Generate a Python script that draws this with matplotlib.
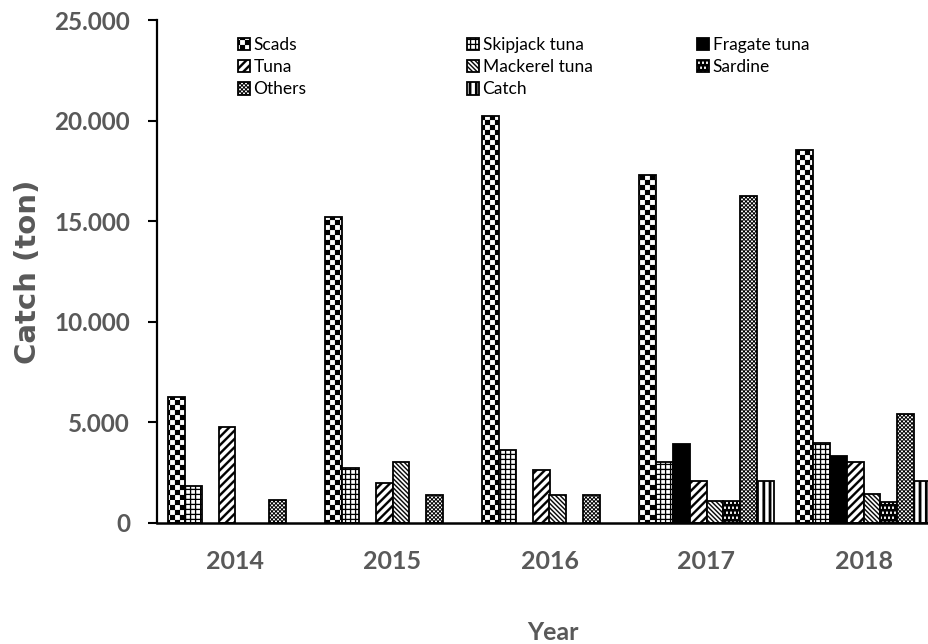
import numpy as np
import matplotlib
matplotlib.use('Agg')
import matplotlib.pyplot as plt
import matplotlib.hatch as mhatch
from matplotlib.path import Path

# ---------------- data ----------------
years = ['2014', '2015', '2016', '2017', '2018']
scads    = [6250, 15200, 20250, 17300, 18550]
skipjack = [1850, 2750, 3650, 3050, 4000]
fragate  = [0, 0, 0, 3950, 3350]
tuna     = [4750, 2000, 2650, 2100, 3050]
mackerel = [0, 3050, 1400, 1100, 1450]
sardine  = [0, 0, 0, 1100, 1050]
others   = [1150, 1400, 1400, 16250, 5400]
catch    = [0, 0, 0, 2100, 2100]
series_names = ['Scads', 'Skipjack tuna', 'Fragate tuna', 'Tuna',
                'Mackerel tuna', 'Sardine', 'Others', 'Catch']
yticks = [0, 5000, 10000, 15000, 20000, 25000]
yticklabels = ['0', '5.000', '10.000', '15.000', '20.000', '25.000']

# ---------------- custom fill patterns (hatch tile = unit square) ----------------
def rect(x0, y0, x1, y1, ccw=True):
    pts = [(x0, y0), (x1, y0), (x1, y1), (x0, y1)]
    return pts if ccw else pts[::-1]

def make_path(polys):
    verts, codes = [], []
    for p in polys:
        verts.extend(p)
        verts.append(p[0])
        codes.extend([Path.MOVETO] + [Path.LINETO] * (len(p) - 1) + [Path.CLOSEPOLY])
    return Path(np.array(verts, float), codes)

def checker(n):
    return make_path([rect(i / n, j / n, (i + 1) / n, (j + 1) / n)
                      for i in range(n) for j in range(n) if (i + j) % 2 == 0])

def grid(n, t):
    polys = [rect(0, k / n, 1, k / n + t) for k in range(n)]
    polys += [rect(k / n, 0, k / n + t, 1) for k in range(n)]
    return make_path(polys)

def diag_up(n, w):
    polys = []
    for k in range(-n - 1, n + 1):
        c = k / n
        polys.append([(0, c), (1, c + 1), (1, c + 1 + w), (0, c + w)])
    return polys

def diag_down(n, w):
    polys = []
    for k in range(0, 2 * n + 2):
        c = k / n
        polys.append([(0, c), (1, c - 1), (1, c - 1 + w), (0, c + w)])
    return polys

def vstripes(n, w):
    return make_path([rect(k / n, 0, k / n + w, 1) for k in range(n)])

def holes():
    polys = [rect(0, 0, 1, 1)]
    for j in range(20):
        for i in range(25):
            x0 = (4 * i + 2 * (j % 2)) / 100
            y0 = (5 * j + 1) / 100
            polys.append(rect(x0, y0, x0 + 0.02, y0 + 0.025, ccw=False))
    return make_path(polys)

CUSTOM = {
    'O': checker(20),
    '+': grid(20, 0.011),
    '/': make_path(diag_up(12, 0.032)),
    '\\': make_path(diag_down(22, 0.018)),
    'x': make_path(diag_up(25, 0.012) + diag_down(25, 0.012)),
    '*': holes(),
    '|': vstripes(16, 0.026),
}
_orig_get_path = mhatch.get_path
def _get_path(hatchpattern, density=6):
    if hatchpattern in CUSTOM:
        return CUSTOM[hatchpattern]
    return _orig_get_path(hatchpattern, density)
mhatch.get_path = _get_path
plt.rcParams['hatch.linewidth'] = 0.1

# ---------------- figure ----------------
W, H = 929, 644
fig = plt.figure(figsize=(W / 100, H / 100), dpi=100)
ax = fig.add_axes([157 / W, (H - 523) / H, 785 / W, 503 / H])

values = [scads, skipjack, fragate, tuna, mackerel, sardine, others, catch]
faces = ['white', 'white', 'black', 'white', 'white', 'white', 'white', 'white']
hatches = ['O', '+', None, '/', '\\', '*', 'x', '|']

x = np.arange(len(years))
bw = 0.108
containers = []
for i, (vals, name, fc, h) in enumerate(zip(values, series_names, faces, hatches)):
    v = np.asarray(vals, float)
    heights = np.where(v > 0, v, np.nan)   # empty categories: no bar drawn
    c = ax.bar(x + (i - 3.5) * bw, heights, width=bw, facecolor=fc, edgecolor='black',
               linewidth=1.3, hatch=h, label=name, zorder=2)
    containers.append(c)

ax.set_xlim(-0.5, len(years) - 0.5)
ax.set_ylim(0, 25000)

gray = '#595959'
ax.set_yticks(yticks, yticklabels, family='Lato', weight='bold', size=17.5, color=gray)
ax.set_xticks(x, years, family='Lato', weight='bold', size=18, color=gray)
ax.tick_params(axis='y', length=6.5, width=1.5, pad=13, direction='out')
ax.tick_params(axis='x', length=0, pad=19.5)

for s in ['top', 'right']:
    ax.spines[s].set_visible(False)
for s in ['left', 'bottom']:
    ax.spines[s].set_zorder(3)
ax.spines['left'].set_linewidth(1.6)
ax.spines['bottom'].set_linewidth(1.8)

ax.set_ylabel('Catch (ton)', family='DejaVu Sans', weight='bold', size=21,
              color=gray, va='center')
ax.yaxis.set_label_coords((28 - 157) / 785, 0.5)
ax.set_xlabel('Year', family='Lato', weight='bold', size=18, color=gray, va='center')
ax.xaxis.set_label_coords(0.505, (523 - 633) / 503)

# ---------------- legend: three columns, row-major order ----------------
legend_cols = [[0, 3, 6], [1, 4, 7], [2, 5]]
col_x = [238, 467, 697]
for cx, idxs in zip(col_x, legend_cols):
    fig.legend([containers[k] for k in idxs], [series_names[k] for k in idxs],
               loc='upper left', bbox_to_anchor=(cx / W, 1 - 37 / H),
               bbox_transform=fig.transFigure, frameon=False, borderpad=0,
               borderaxespad=0, handlelength=0.7, handleheight=0.7,
               handletextpad=0.2, labelspacing=0.36,
               prop={'family': 'Lato', 'size': 12.5, 'weight': 'normal'})

fig.savefig('out.png', dpi=100)
